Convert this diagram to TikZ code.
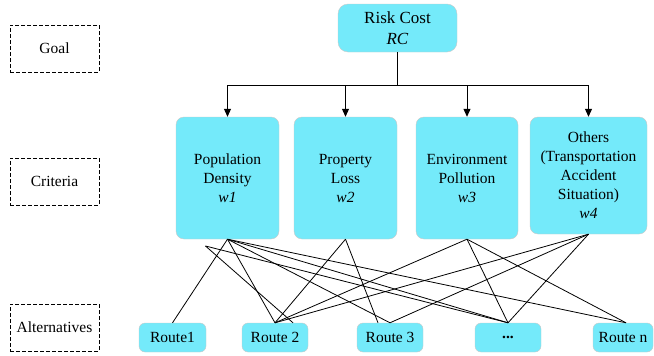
\documentclass[tikz,border=0pt]{standalone}
\usepackage{fontspec}
\setmainfont{Liberation Serif}
\usetikzlibrary{positioning,arrows.meta}
\definecolor{boxcyan}{RGB}{116,234,250}
\definecolor{boxrim}{RGB}{200,200,200}
\tikzset{
  crit/.style={draw=boxrim,fill=boxcyan,rounded corners=8pt,align=center,
    minimum width=103pt,minimum height=122pt,inner sep=1pt},
  route/.style={draw=boxrim,fill=boxcyan,rounded corners=6pt,
    minimum width=66pt,minimum height=29pt,inner sep=1pt},
  level/.style={draw,dash pattern=on 4pt off 2pt,minimum width=89pt,minimum height=47pt,inner sep=1pt}
}
\begin{document}
\begin{tikzpicture}[x=1pt,y=-1pt,on grid,font=\fontsize{15.5}{19}\selectfont,
  >={Triangle[width=7pt,length=8pt]}]
   \useasboundingbox (0,0) rectangle (654,356);
   \node[level] (goal) at (54.5,48.5) {Goal};
   \node[level] (crit) at (54.5,181.5) {Criteria};
   \node[level] (alt) at (54.5,327.5) {Alternatives};
   \node[crit,minimum width=119pt,minimum height=48pt,rounded corners=10pt,
     font=\fontsize{17}{21}\selectfont] (rc) at (397.5,28) {Risk Cost\\\textit{RC}};
   \node[crit] (pd) at (227.5,178) {Population\\Density\\\textit{w1}};
   \node[crit] (pl) [right=118pt of pd] {Property\\Loss\\\textit{w2}};
   \node[crit,minimum width=102pt] (ep) [right=121.5pt of pl] {Environment\\Pollution\\\textit{w3}};
   \node[crit,minimum width=117pt,minimum height=117pt] (ot) at (588.5,175.5)
     {Others\\(Transportation\\Accident\\Situation)\\\textit{w4}};
   \node[route,minimum width=67pt] (r1) at (172.5,337.5) {Route1};
   \node[route] (r2) [right=102.5pt of r1] {Route 2};
   \node[route] (r3) [right=115pt of r2] {Route 3};
   \node[route] (dots) [right=118pt of r3] {\bfseries ...};
   \node[route,minimum width=60pt] (rn) [right=115pt of dots] {Route n};
   \coordinate (stray) at (205.5,246);
   \draw[line width=1pt] (rc.south) -- ++(0,33) coordinate (fork);
   \foreach \c in {pd,pl,ep,ot}
     \draw[->,line width=1pt] (fork) -| (\c.north);
   \draw[line width=0.8pt]
    (pd.south) edge (r1.north) edge (r2.north) edge (r3.north)
               edge (dots.north) edge ([xshift=3pt]rn.north)
    (stray) edge ([xshift=18pt]r2.north) edge (dots.north)
    (pl.south) edge (r2.north) edge ([xshift=-12pt]r3.north)
    (ep.south) edge (r2.north) edge (dots.north) edge ([xshift=3pt]rn.north)
    (ot.south) edge (r2.north) edge (r3.north) edge (dots.north);
\end{tikzpicture}
\end{document}
